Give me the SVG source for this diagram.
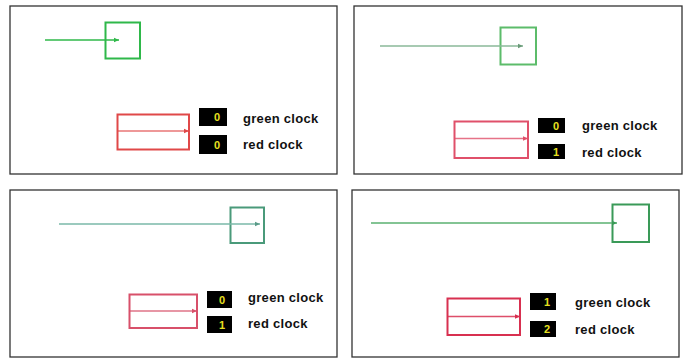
<svg xmlns="http://www.w3.org/2000/svg" width="686" height="358" viewBox="0 0 686 358">
<defs>
<style>
.panel{fill:#fff;stroke:#333;stroke-width:1.3}
.sq{fill:none;stroke-width:2}
.ln{fill:none;stroke-width:1.3}
.cb{fill:#000}
.dg{font-family:"Liberation Sans",Arial,sans-serif;font-weight:bold;font-size:11px;fill:#e8e020;text-anchor:middle}
.lb{font-family:"Liberation Sans",Arial,sans-serif;font-weight:bold;font-size:13px;letter-spacing:0.3px;fill:#111}
</style>
<marker id="ag1" markerWidth="6" markerHeight="6" refX="5" refY="3" orient="auto" markerUnits="userSpaceOnUse"><path d="M0,0.8 L5,3 L0,5.2 Z" fill="#2fb84a"/></marker>
<marker id="ar1" markerWidth="6" markerHeight="6" refX="5" refY="3" orient="auto" markerUnits="userSpaceOnUse"><path d="M0,0.8 L5,3 L0,5.2 Z" fill="#e04848"/></marker>
<marker id="ag2" markerWidth="6" markerHeight="6" refX="5" refY="3" orient="auto" markerUnits="userSpaceOnUse"><path d="M0,0.8 L5,3 L0,5.2 Z" fill="#6a9a78"/></marker>
<marker id="ar2" markerWidth="6" markerHeight="6" refX="5" refY="3" orient="auto" markerUnits="userSpaceOnUse"><path d="M0,0.8 L5,3 L0,5.2 Z" fill="#e0506a"/></marker>
<marker id="ag3" markerWidth="6" markerHeight="6" refX="5" refY="3" orient="auto" markerUnits="userSpaceOnUse"><path d="M0,0.8 L5,3 L0,5.2 Z" fill="#5a9a88"/></marker>
<marker id="ar3" markerWidth="6" markerHeight="6" refX="5" refY="3" orient="auto" markerUnits="userSpaceOnUse"><path d="M0,0.8 L5,3 L0,5.2 Z" fill="#d8506a"/></marker>
<marker id="ag4" markerWidth="6" markerHeight="6" refX="5" refY="3" orient="auto" markerUnits="userSpaceOnUse"><path d="M0,0.8 L5,3 L0,5.2 Z" fill="#3a9a58"/></marker>
<marker id="ar4" markerWidth="6" markerHeight="6" refX="5" refY="3" orient="auto" markerUnits="userSpaceOnUse"><path d="M0,0.8 L5,3 L0,5.2 Z" fill="#d83050"/></marker>
</defs>
<rect width="686" height="358" fill="#fff"/>

<g id="panel1">
<rect class="panel" x="10" y="6" width="327" height="168"/>
<g id="p1-green-box"><rect class="sq" x="105.5" y="22.5" width="34.5" height="36" stroke="#2fb84a"/></g>
<g id="p1-red-box"><rect class="sq" x="117.5" y="114.5" width="71.5" height="35" stroke="#e04848" stroke-width="1.5"/></g>
<g id="p1-green-counter"><rect class="cb" x="199" y="108" width="28" height="18"/><text class="dg" x="217" y="121">0</text></g>
<g id="p1-red-counter"><rect class="cb" x="199" y="135" width="28" height="19"/><text class="dg" x="217" y="148.5">0</text></g>
<g id="p1-green-label"><text class="lb" x="243" y="122.5">green clock</text></g>
<g id="p1-red-label"><text class="lb" x="243" y="149">red clock</text></g>
</g>

<g id="panel2">
<rect class="panel" x="354" y="6" width="328" height="168"/>
<g id="p2-green-box"><rect class="sq" x="500.5" y="27.5" width="35.5" height="37" stroke="#5cbc6a" stroke-width="1.6"/></g>
<g id="p2-red-box"><rect class="sq" x="454.5" y="121.5" width="73.5" height="36.5" stroke="#e0506a" stroke-width="1.6"/></g>
<g id="p2-green-counter"><rect class="cb" x="538" y="118" width="27" height="15"/><text class="dg" x="556" y="129.5">0</text></g>
<g id="p2-red-counter"><rect class="cb" x="538" y="144" width="27" height="15"/><text class="dg" x="556" y="155.5">1</text></g>
<g id="p2-green-label"><text class="lb" x="582" y="130">green clock</text></g>
<g id="p2-red-label"><text class="lb" x="582" y="157">red clock</text></g>
</g>

<g id="panel3">
<rect class="panel" x="10" y="190" width="327" height="167"/>
<g id="p3-green-box"><rect class="sq" x="230.5" y="207.5" width="33.5" height="35.5" stroke="#4a9a7a" stroke-width="1.6"/></g>
<g id="p3-red-box"><rect class="sq" x="129.5" y="294.5" width="67.5" height="33.5" stroke="#d8506a" stroke-width="1.6"/></g>
<g id="p3-green-counter"><rect class="cb" x="207" y="291" width="25" height="17"/><text class="dg" x="222" y="303.5">0</text></g>
<g id="p3-red-counter"><rect class="cb" x="207" y="316" width="25" height="17"/><text class="dg" x="222" y="328.5">1</text></g>
<g id="p3-green-label"><text class="lb" x="248" y="302">green clock</text></g>
<g id="p3-red-label"><text class="lb" x="248" y="328">red clock</text></g>
</g>

<g id="panel4">
<rect class="panel" x="352" y="190" width="327" height="167"/>
<g id="p4-green-box"><rect class="sq" x="612.5" y="204.5" width="36.5" height="37.5" stroke="#3a9a58" stroke-width="1.6"/></g>
<g id="p4-red-box"><rect class="sq" x="447.5" y="298.5" width="72.5" height="36.5" stroke="#d83050" stroke-width="1.8"/></g>
<g id="p4-green-counter"><rect class="cb" x="530" y="293" width="26" height="17"/><text class="dg" x="547" y="305.5">1</text></g>
<g id="p4-red-counter"><rect class="cb" x="530" y="321" width="26" height="16"/><text class="dg" x="547" y="333">2</text></g>
<g id="p4-green-label"><text class="lb" x="575" y="307">green clock</text></g>
<g id="p4-red-label"><text class="lb" x="575" y="334">red clock</text></g>
</g>

<g id="connectors">
<line class="ln" x1="45" y1="40" x2="119" y2="40" stroke="#2fb84a" marker-end="url(#ag1)"/>
<line class="ln" x1="117.5" y1="131" x2="189" y2="131" stroke="#e04848" stroke-opacity="0.75" marker-end="url(#ar1)"/>
<line class="ln" x1="380" y1="46" x2="523" y2="46" stroke="#8ab898" marker-end="url(#ag2)"/>
<line class="ln" x1="454.5" y1="138.5" x2="528" y2="138.5" stroke="#e0506a" stroke-opacity="0.8" marker-end="url(#ar2)"/>
<line class="ln" x1="59" y1="224" x2="260" y2="224" stroke="#7ab8a8" marker-end="url(#ag3)"/>
<line class="ln" x1="129.5" y1="311" x2="197" y2="311" stroke="#d8506a" stroke-opacity="0.8" marker-end="url(#ar3)"/>
<line class="ln" x1="371" y1="223" x2="617" y2="223" stroke="#5ab070" marker-end="url(#ag4)"/>
<line class="ln" x1="447.5" y1="316.5" x2="520" y2="316.5" stroke="#d83050" stroke-opacity="0.85" marker-end="url(#ar4)"/>
</g>
</svg>
